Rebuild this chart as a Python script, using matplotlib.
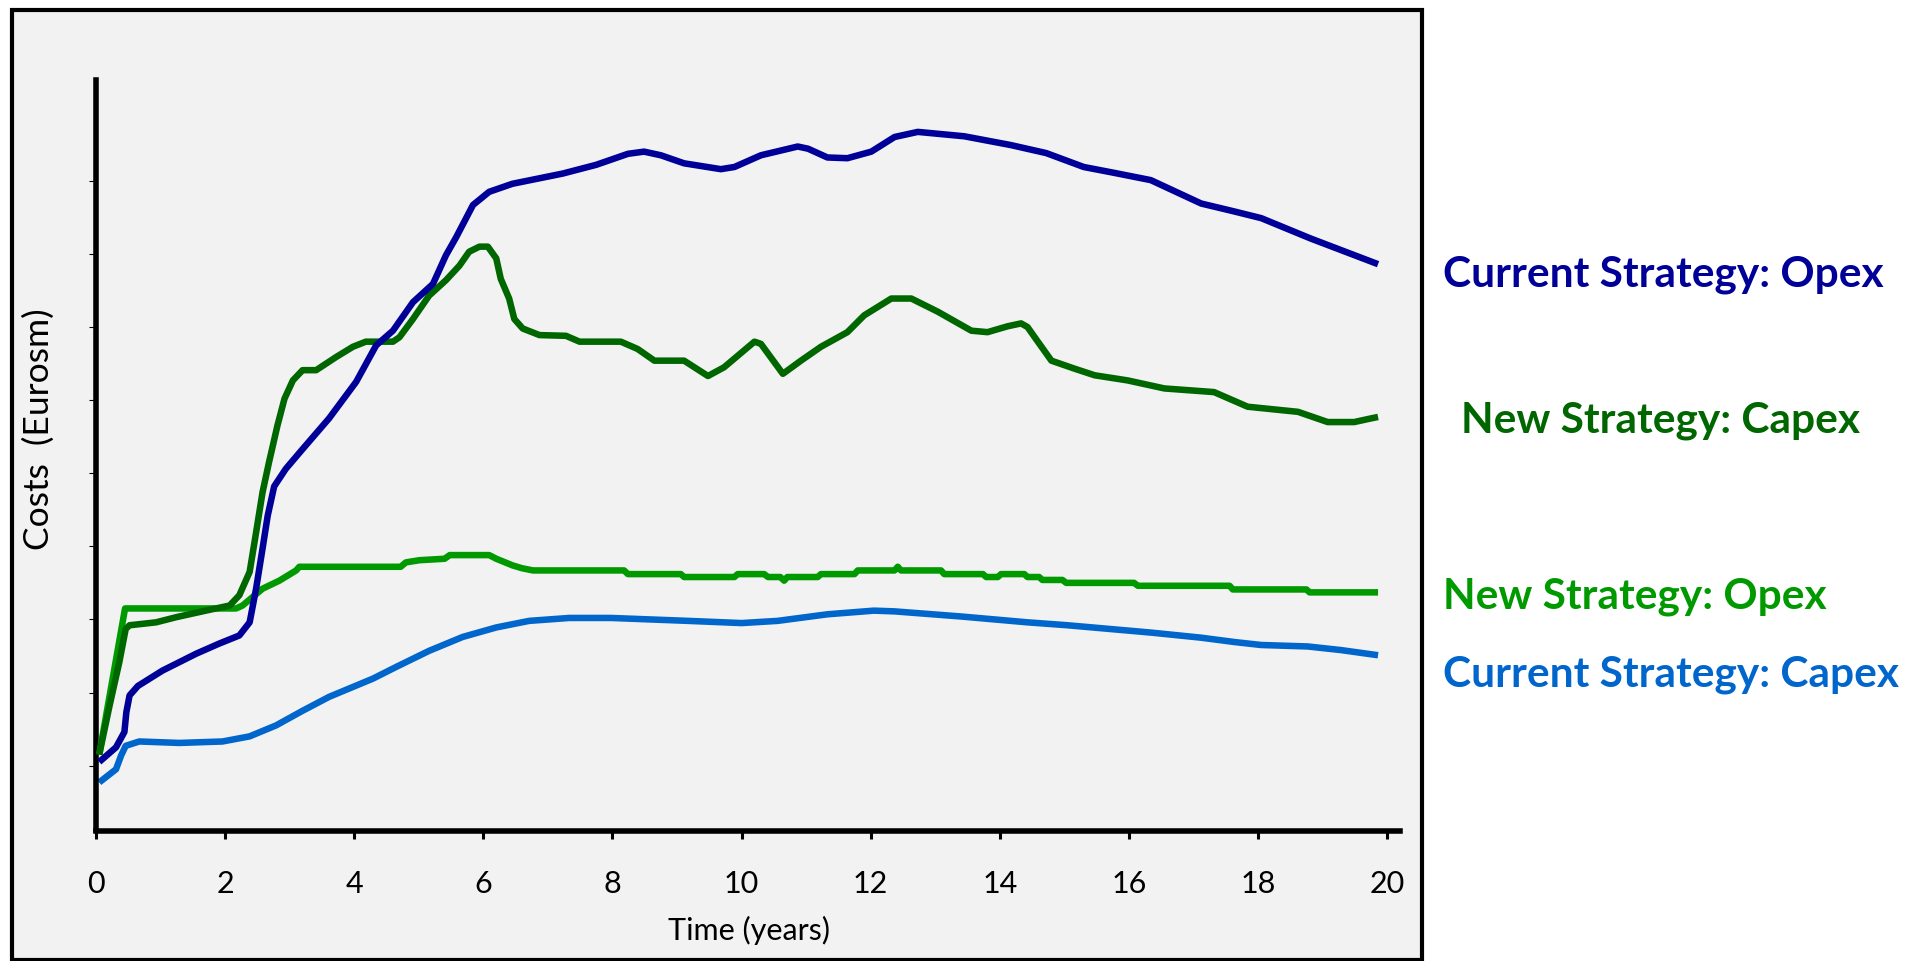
import matplotlib
matplotlib.use("Agg")
import matplotlib.pyplot as plt
from matplotlib.patches import Rectangle

plt.rcParams['font.family'] = ['Lato', 'DejaVu Sans']

# ---- data: cost curves over time (years) ----
cur_opex_t = [0.05, 0.31, 0.44, 0.47, 0.52, 0.65, 1.03, 1.55, 1.91, 2.22, 2.38, 2.48, 2.58, 2.66,
              2.76, 2.94, 3.20, 3.61, 4.03, 4.34, 4.60, 4.91, 5.22, 5.42, 5.58, 5.84, 6.09, 6.45,
              7.23, 7.75, 8.24, 8.49, 8.75, 9.11, 9.68, 9.89, 10.30, 10.87, 11.03, 11.33, 11.64,
              12.01, 12.37, 12.73, 13.45, 14.17, 14.72, 15.30, 15.77, 16.34, 17.12, 17.64, 18.05,
              18.82, 19.86]
cur_opex_v = [1.05, 1.25, 1.46, 1.73, 1.96, 2.09, 2.30, 2.53, 2.67, 2.78, 2.96, 3.42, 3.97, 4.42,
              4.82, 5.06, 5.33, 5.75, 6.25, 6.75, 6.95, 7.34, 7.59, 7.98, 8.23, 8.67, 8.85, 8.96,
              9.10, 9.22, 9.37, 9.40, 9.35, 9.24, 9.16, 9.19, 9.35, 9.47, 9.44, 9.32, 9.31,
              9.40, 9.60, 9.67, 9.61, 9.49, 9.38, 9.19, 9.11, 9.01, 8.69, 8.58, 8.49,
              8.21, 7.86]

new_capex_t = [0.05, 0.21, 0.36, 0.46, 0.52, 0.93, 1.24, 1.70, 2.07, 2.22, 2.38, 2.48, 2.58, 2.68,
               2.74, 2.81, 2.92, 3.05, 3.20, 3.41, 3.72, 3.98, 4.18, 4.60, 4.70, 4.91, 5.16, 5.42,
               5.63, 5.78, 5.94, 6.07, 6.20, 6.27, 6.40, 6.48, 6.61, 6.87, 7.28, 7.49, 8.13, 8.39,
               8.65, 9.11, 9.48, 9.73, 10.20, 10.30, 10.64, 10.92, 11.23, 11.64, 11.90, 12.32,
               12.63, 13.04, 13.56, 13.81, 14.12, 14.33, 14.43, 14.59, 14.80, 15.16, 15.47, 15.98,
               16.55, 17.32, 17.84, 18.62, 19.08, 19.49, 19.75, 19.86]
new_capex_v = [1.15, 1.82, 2.41, 2.87, 2.92, 2.96, 3.03, 3.12, 3.19, 3.33, 3.65, 4.19, 4.74, 5.15,
               5.38, 5.65, 6.02, 6.27, 6.41, 6.41, 6.59, 6.73, 6.80, 6.80, 6.86, 7.11, 7.43, 7.64,
               7.84, 8.03, 8.10, 8.10, 7.94, 7.66, 7.39, 7.11, 6.98, 6.89, 6.88, 6.80, 6.80, 6.70,
               6.54, 6.54, 6.33, 6.45, 6.80, 6.77, 6.36, 6.54, 6.73, 6.93, 7.16, 7.39,
               7.39, 7.21, 6.95, 6.93, 7.01, 7.05, 7.00, 6.80, 6.54, 6.43, 6.34, 6.27,
               6.16, 6.11, 5.91, 5.84, 5.70, 5.70, 5.75, 5.77]

new_opex_t = [0.05, 0.45, 2.17, 2.27, 2.58, 2.84, 3.10, 3.15, 4.72, 4.80, 5.01, 5.40, 5.48, 6.09,
              6.20, 6.45, 6.60, 6.77, 8.18, 8.24, 9.06, 9.11, 9.89, 9.94, 10.35, 10.41, 10.60,
              10.66, 10.71, 11.18, 11.23, 11.75, 11.80, 12.37, 12.42, 12.47, 13.09, 13.14, 13.74,
              13.79, 13.97, 14.02, 14.38, 14.43, 14.61, 14.66, 14.97, 15.03, 16.08, 16.14, 17.56,
              17.61, 18.75, 18.80, 19.86]
new_opex_v = [1.15, 3.15, 3.15, 3.19, 3.42, 3.53, 3.67, 3.72, 3.72, 3.78, 3.81, 3.83, 3.88, 3.88,
              3.83, 3.74, 3.70, 3.67, 3.67, 3.62, 3.62, 3.58, 3.58, 3.62, 3.62, 3.58, 3.58,
              3.53, 3.58, 3.58, 3.62, 3.62, 3.67, 3.67, 3.72, 3.67, 3.67, 3.62, 3.62,
              3.58, 3.58, 3.62, 3.62, 3.58, 3.58, 3.54, 3.54, 3.50, 3.50, 3.46, 3.46,
              3.41, 3.41, 3.37, 3.37]

cur_capex_t = [0.05, 0.31, 0.39, 0.46, 0.67, 1.29, 1.96, 2.38, 2.79, 3.20, 3.61, 4.29, 4.65, 5.16,
               5.68, 6.20, 6.71, 7.33, 7.98, 9.17, 10.00, 10.56, 11.33, 12.05, 12.37, 13.40,
               14.43, 15.05, 16.34, 17.12, 17.64, 18.05, 18.77, 19.29, 19.86]
cur_capex_v = [0.77, 0.95, 1.14, 1.27, 1.33, 1.31, 1.33, 1.40, 1.55, 1.75, 1.94, 2.19, 2.35, 2.57,
               2.76, 2.89, 2.98, 3.02, 3.02, 2.98, 2.95, 2.98, 3.07, 3.12, 3.11, 3.04,
               2.96, 2.92, 2.82, 2.75, 2.69, 2.65, 2.63, 2.58, 2.51]

x_ticks = list(range(0, 21, 2))
y_ticks = list(range(1, 10))

series_labels = ["Current Strategy: Opex", "New Strategy: Capex",
                 "New Strategy: Opex", "Current Strategy: Capex"]
series_colors = ["#000099", "#006600", "#009900", "#0066CC"]

W, H = 1926, 962
fig = plt.figure(figsize=(W / 100, H / 100), dpi=100)
fig.patch.set_facecolor("white")


def fx(px):
    return px / W


def fy(py):
    return 1 - py / H


# framed grey panel behind the chart
panel = Rectangle((fx(11.5), fy(961)), fx(1422) - fx(11.5), fy(10.5) - fy(961),
                  transform=fig.transFigure, facecolor="#F2F2F2",
                  edgecolor="black", linewidth=3.0, zorder=-5)
fig.patches.append(panel)

ax = fig.add_axes([fx(96), fy(831.5), fx(1400) - fx(96), fy(81) - fy(831.5)])
ax.set_facecolor("none")
ax.set_zorder(2)

lw = 4.7
ax.plot(cur_capex_t, cur_capex_v, color=series_colors[3], lw=lw, solid_capstyle="butt", zorder=2)
ax.plot(new_opex_t, new_opex_v, color=series_colors[2], lw=lw, solid_capstyle="butt",
        solid_joinstyle="round", zorder=3)
ax.plot(new_capex_t, new_capex_v, color=series_colors[1], lw=lw, solid_capstyle="butt",
        solid_joinstyle="round", zorder=4)
ax.plot(cur_opex_t, cur_opex_v, color=series_colors[0], lw=lw, solid_capstyle="butt", zorder=5)

ax.set_xlim(0, 20.2)
ax.set_ylim(0.112, 10.38)

for s in ("top", "right"):
    ax.spines[s].set_visible(False)
for s in ("left", "bottom"):
    ax.spines[s].set_linewidth(4.0)
    ax.spines[s].set_color("black")

ax.set_xticks(x_ticks)
ax.set_xticklabels([str(v) for v in x_ticks])
ax.set_yticks(y_ticks)
ax.set_yticklabels([])
ax.tick_params(axis="x", direction="out", length=6, width=2.2, pad=22, labelsize=22, colors="black")
ax.tick_params(axis="y", direction="out", length=5, width=0.8)

fig.text(fx(749), fy(940), "Time (years)", ha="center", va="baseline", fontsize=22)
fig.text(fx(39), fy(429), "Costs  (Eurosm)", ha="center", va="center", rotation=90, fontsize=25.5)

label_pos = [(1443, 287), (1461, 432), (1443, 609), (1443, 687)]
for (px, py), txt, col in zip(label_pos, series_labels, series_colors):
    fig.text(fx(px), fy(py), txt, ha="left", va="baseline", fontsize=30.5,
             fontweight="bold", color=col)

fig.savefig("out.png", dpi=100, facecolor="white")
